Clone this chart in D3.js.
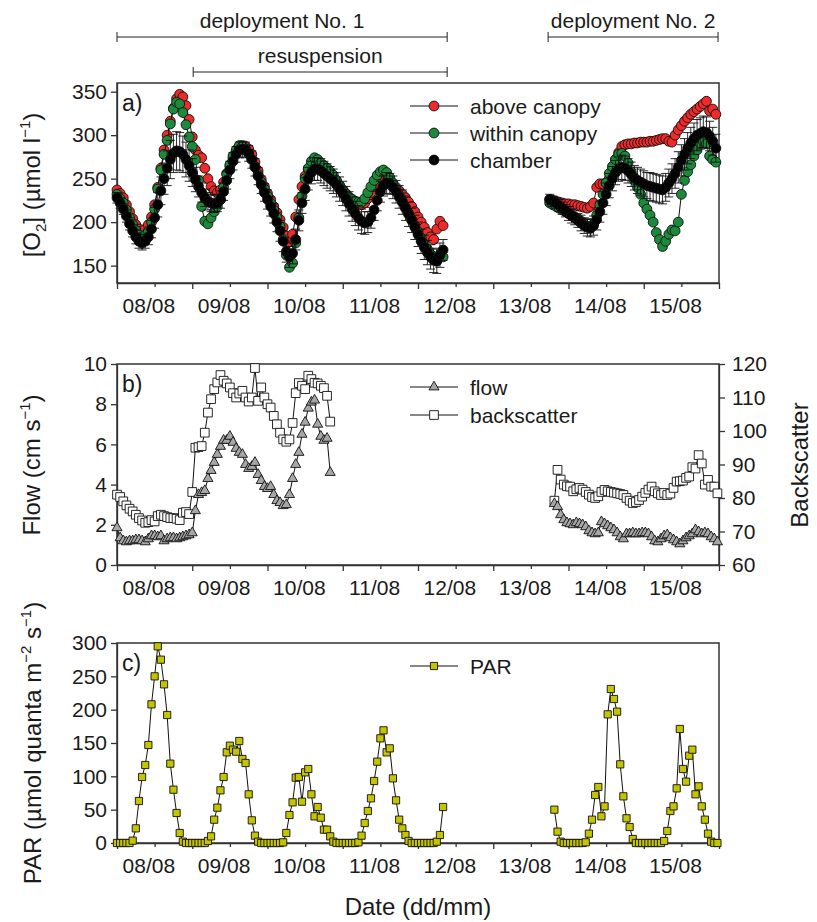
<!DOCTYPE html>
<meta charset="utf-8">
<style>
  body { margin: 0; background: #fff; }
  svg text { font-family: "Liberation Sans", Arial, sans-serif; fill: #1a1a1a; }
  .axis path, .axis line { stroke: #333; stroke-width: 1.3; }
  .axis text { font-size: 21px; }
  .frame { fill: none; stroke: #333; stroke-width: 1.5; }
  .conn { fill: none; stroke: #111; stroke-width: 1; }
  .err line { stroke: #111; stroke-width: 0.9; }
</style>
<body>
<svg width="817" height="922"></svg>
<script src="https://cdn.jsdelivr.net/npm/d3@7"></script>
<script>

// ---- data (time in hours after 08/08 00:00, one value per hour) ----
var dayLabels = ["08/08", "09/08", "10/08", "11/08", "12/08", "13/08", "14/08", "15/08"];

// O2, deployment 1 starts at hour 0, deployment 2 at hour 138
var o2Start1 = 0, o2Start2 = 138;
var aboveCanopy1 = [237,233,228,220,212,204,197,192,190,192,197,206,220,240,262,283,300,316,331,342,347,344,334,318,298,283,277,274,262,250,241,236,234,237,246,256,264,273,280,285,288,287,284,278,269,259,249,241,233,226,218,211,203,194,184,177,186,206,226,241,253,261,266,266,264,262,260,257,254,251,247,242,237,233,229,226,223,221,220,222,227,234,241,247,251,253,252,248,244,240,236,232,228,223,218,212,206,200,194,188,183,180,192,201,196];
var withinCanopy1 = [232,227,222,214,205,197,190,185,183,185,190,200,215,238,260,278,294,313,330,338,336,326,312,298,287,272,248,218,201,198,205,212,218,226,240,255,266,276,283,288,287,284,279,272,264,255,246,238,230,222,214,205,195,180,162,148,153,176,205,230,250,262,270,274,272,268,265,262,258,254,248,242,237,232,228,226,224,223,223,227,234,241,248,254,258,260,257,251,245,238,231,224,217,210,203,196,189,182,175,169,163,158,156,163,160];
var chamber1 = [228,222,215,207,198,190,183,178,176,178,183,192,205,220,236,250,262,272,279,282,281,278,272,265,257,249,241,234,228,224,222,221,222,226,235,248,260,270,278,283,284,283,279,272,263,253,243,234,226,218,210,200,190,178,166,160,164,180,202,222,238,250,257,261,261,259,256,253,250,247,243,238,233,227,221,215,210,205,201,199,200,205,214,225,235,242,245,244,240,235,229,223,216,209,202,194,186,178,171,165,160,156,155,162,168];
var chamberErr1 = [6,6,6,7,7,7,8,8,8,8,9,10,12,14,16,18,20,22,22,22,22,21,20,18,16,14,12,11,10,10,10,10,10,10,10,10,10,10,9,9,9,9,9,10,10,10,10,10,11,11,11,11,12,12,12,12,12,12,12,12,13,13,13,13,13,14,14,14,14,14,14,14,14,14,14,14,14,14,14,13,12,12,12,12,12,12,12,12,13,13,13,14,14,14,14,14,14,14,14,14,14,14,14,14,12];

var aboveCanopy2 = [226,225,224,223,222,221,221,220,220,219,218,217,216,218,222,240,244,244,245,250,260,272,280,287,289,290,290,291,291,292,292,292,293,293,294,295,296,296,293,292,300,306,311,316,320,324,327,330,333,336,339,328,330,324];
var withinCanopy2 = [222,220,218,216,214,212,210,208,206,204,201,198,195,193,198,208,220,232,245,256,264,272,278,279,276,268,258,248,240,232,222,215,208,200,188,180,172,178,186,191,190,200,232,248,258,266,276,283,291,293,290,276,272,269];
var chamber2 = [226,224,222,219,216,213,210,207,205,202,199,196,194,193,196,203,212,222,232,242,250,257,261,263,262,259,255,251,248,246,244,242,241,240,239,238,237,240,245,250,256,263,271,278,285,291,296,300,302,304,303,299,293,285];
var chamberErr2 = [6,6,6,7,7,7,8,8,8,8,9,9,10,10,11,12,12,13,13,14,14,14,14,14,14,14,14,14,15,15,15,15,16,16,16,16,16,16,16,17,17,18,18,18,18,18,18,18,18,18,18,17,16,16];

// flow (cm/s) and backscatter, deployment 1 from hour 0, deployment 2 from hour 139.5
var flowStart1 = 0, flowStart2 = 139.5;
var flow1 = [1.85,1.35,1.2,1.15,1.2,1.2,1.25,1.25,1.2,1.15,1.3,1.45,1.45,1.4,1.45,1.2,1.3,1.35,1.35,1.3,1.35,1.4,1.45,1.5,1.6,2.7,3.5,3.6,3.7,4.3,4.7,5.1,5.5,5.9,6.2,6.2,6.4,6.1,5.8,5.6,5.5,5.0,4.8,4.9,5.1,4.5,4.2,3.9,3.8,3.9,3.5,3.2,3.1,2.95,3.0,3.5,4.3,5.0,5.6,6.5,7.1,7.8,8.1,8.2,7.0,6.4,6.2,6.3,4.6];
var backscatter1 = [81,80.3,79,77.8,76.8,76,75,74,73.3,72.6,72.8,73.4,73,74.6,75,74.6,74.3,74,74,73.8,73.4,75.6,75.8,75.2,81.8,95,95.2,95.5,99.5,105.5,109.5,112.5,114.5,116.7,115,114.2,113,111.3,110,111.2,112,110,108.8,110,118.8,109,113,110,108,107,104.5,102,99.5,97.5,96.8,97.5,102.4,111.3,114.3,113.5,112.5,116.5,115.5,114.4,114.2,113.5,112.8,110.5,102.8];
var flow2 = [3.05,2.9,2.5,2.25,2.1,2.05,2.0,2.1,2.05,2.0,1.9,1.7,1.6,1.55,1.6,2.15,2.05,1.95,1.85,1.75,1.6,1.4,1.3,1.55,1.55,1.6,1.55,1.55,1.6,1.6,1.55,1.4,1.2,1.15,1.3,1.45,1.5,1.35,1.25,1.15,1.05,1.2,1.35,1.45,1.55,1.75,1.65,1.55,1.6,1.55,1.4,1.3,1.15];
var backscatter2 = [79.2,88.4,85.5,84,83.5,83.4,82,82.6,83,82.5,81.8,81,80.3,80,80.5,81.8,82.4,82,81.8,81.6,81.4,81.2,80.9,80,79.2,78.5,78.8,79.4,80.4,81.5,82.5,83.4,82,81.4,80.9,81.5,80.9,81.3,83,84.9,85,85.2,86,86.4,89.2,88.8,92.8,90.3,84,85.4,83.4,83.4,81.4];

// PAR, deployment 1 from hour 0, deployment 2 from hour 139.5
var parStart1 = 0, parStart2 = 139.5;
var par1 = [0,0,0,0,0,3.5,22,63,99,117,147,208,250,295,275,238,192,119,80,45,15,2,0,0,0,0,0,0,0,3,10,35,53,79,99,136,146,140,137,153,126,120,73,34,11,2,0,0,0,0,0,0,0,1,15,42,61,98,99,62,106,111,73,40,54,38,20,20,10,2,0,0,0,0,0,0,0,1,11,30,48,67,93,122,157,169,136,142,97,64,35,22,12,3,0,0,0,0,0,0,0,0,2,12,54];
var par2 = [50,17,2,0,0,0,0,0,0,0,1,14,35,72,84,40,55,193,231,216,197,118,70,37,24,6,0,0,0,0,0,0,0,0,0,3,18,48,55,82,171,111,92,131,140,73,85,55,35,14,2,0,0];

// ---- layout ----
var svg = d3.select("svg");
var x = d3.scaleLinear().domain([0, 192]).range([117, 719]);
var yO2 = d3.scaleLinear().domain([130, 360]).range([283, 83]);
var yFlow = d3.scaleLinear().domain([0, 10]).range([565, 364]);
var yBs = d3.scaleLinear().domain([60, 120]).range([565, 364]);
var yPar = d3.scaleLinear().domain([0, 300]).range([843, 643]);

function pts(start, vals) {
  return vals.map(function(v, i) { return { t: start + i, v: v }; });
}

function xAxes(yBottom) {
  var major = d3.range(0, 193, 24), minor = d3.range(12, 192, 24);
  svg.append("g").attr("class", "axis").attr("transform", "translate(0," + yBottom + ")")
    .call(d3.axisBottom(x).tickValues(major).tickSize(6).tickSizeOuter(0).tickFormat(""));
  svg.append("g").attr("class", "axis").attr("transform", "translate(0," + yBottom + ")")
    .call(d3.axisBottom(x).tickValues(minor).tickSize(4).tickSizeOuter(0).tickFormat(""))
    .select(".domain").remove();
  var lab = svg.append("g").attr("class", "axis").attr("transform", "translate(0," + yBottom + ")")
    .call(d3.axisBottom(x).tickValues(dayLabels.map(function(d, i) { return i * 24 + 10; }))
      .tickSize(0).tickPadding(15).tickFormat(function(d, i) { return dayLabels[i]; }));
  lab.select(".domain").remove();
}

function frame(yTop, yBottom) {
  svg.append("rect").attr("class", "frame")
    .attr("x", 117).attr("y", yTop).attr("width", 602).attr("height", yBottom - yTop);
}

function series(g, data, y, opt) {
  g.append("path").datum(data).attr("class", "conn")
    .attr("d", d3.line().x(function(d) { return x(d.t); }).y(function(d) { return y(d.v); }));
  if (opt.err) {
    var eg = g.append("g").attr("class", "err");
    data.forEach(function(d, i) {
      var e = opt.err[i], cx = x(d.t);
      eg.append("line").attr("x1", cx).attr("x2", cx).attr("y1", y(d.v - e)).attr("y2", y(d.v + e));
      eg.append("line").attr("x1", cx - 4.5).attr("x2", cx + 4.5).attr("y1", y(d.v - e)).attr("y2", y(d.v - e));
      eg.append("line").attr("x1", cx - 4.5).attr("x2", cx + 4.5).attr("y1", y(d.v + e)).attr("y2", y(d.v + e));
    });
  }
  g.selectAll(null).data(data).enter().append("path")
    .attr("transform", function(d) { return "translate(" + x(d.t) + "," + y(d.v) + ")"; })
    .attr("d", d3.symbol().type(opt.symbol).size(opt.size))
    .attr("fill", opt.fill).attr("stroke", "#111").attr("stroke-width", 0.9);
}

function legendRow(yy, opt, label) {
  svg.append("line").attr("x1", 410).attr("x2", 458).attr("y1", yy).attr("y2", yy)
    .attr("stroke", "#111").attr("stroke-width", 1);
  svg.append("path").attr("transform", "translate(434," + yy + ")")
    .attr("d", d3.symbol().type(opt.symbol).size(opt.size))
    .attr("fill", opt.fill).attr("stroke", "#111").attr("stroke-width", 0.9);
  svg.append("text").attr("x", 470).attr("y", yy + 7.5).attr("font-size", 21).text(label);
}

var red = { symbol: d3.symbolCircle, size: 76, fill: "#ee2a2a" };
var green = { symbol: d3.symbolCircle, size: 76, fill: "#1b8a3a" };
var black = { symbol: d3.symbolCircle, size: 76, fill: "#000" };
var tri = { symbol: d3.symbolTriangle, size: 44, fill: "#a6a6a6" };
var sqr = { symbol: d3.symbolSquare, size: 76, fill: "#fff" };
var parSq = { symbol: d3.symbolSquare, size: 52, fill: "#c4c400" };

// ---- top annotations ----
function bracket(t0, t1, yy, label, anchor) {
  svg.append("line").attr("x1", x(t0)).attr("x2", x(t1)).attr("y1", yy).attr("y2", yy).attr("stroke", "#222");
  [t0, t1].forEach(function(t) {
    svg.append("line").attr("x1", x(t)).attr("x2", x(t)).attr("y1", yy - 5).attr("y2", yy + 5).attr("stroke", "#222");
  });
  svg.append("text").attr("x", (x(t0) + x(t1)) / 2).attr("y", yy - 9)
    .attr("text-anchor", "middle").attr("font-size", 21).text(label);
}
bracket(0, 105.3, 37, "deployment No. 1");
bracket(24.3, 105.3, 72, "resuspension");
bracket(137.5, 191.7, 37, "deployment No. 2");

// ---- panel a ----
frame(83, 283);
svg.append("g").attr("class", "axis").attr("transform", "translate(117,0)")
  .call(d3.axisLeft(yO2).tickValues([150, 200, 250, 300, 350]).tickSize(6).tickSizeOuter(0).tickPadding(4));
xAxes(283);
var ga = svg.append("g");
series(ga, pts(o2Start1, aboveCanopy1), yO2, red);
series(ga, pts(o2Start2, aboveCanopy2), yO2, red);
series(ga, pts(o2Start1, withinCanopy1), yO2, green);
series(ga, pts(o2Start2, withinCanopy2), yO2, green);
series(ga, pts(o2Start1, chamber1), yO2, Object.assign({ err: chamberErr1 }, black));
series(ga, pts(o2Start2, chamber2), yO2, Object.assign({ err: chamberErr2 }, black));
legendRow(106, red, "above canopy");
legendRow(133, green, "within canopy");
legendRow(160, black, "chamber");
svg.append("text").attr("x", 122).attr("y", 111).attr("font-size", 23).text("a)");
var t1 = svg.append("text").attr("transform", "translate(40,185) rotate(-90)")
  .attr("text-anchor", "middle").attr("font-size", 24);
t1.append("tspan").text("[O");
t1.append("tspan").attr("font-size", 15).attr("dy", 6).text("2");
t1.append("tspan").attr("dy", -6).text("] (\u00b5mol l");
t1.append("tspan").attr("font-size", 15).attr("dy", -10).text("\u22121");
t1.append("tspan").attr("dy", 10).text(")");

// ---- panel b ----
frame(364, 565);
svg.append("g").attr("class", "axis").attr("transform", "translate(117,0)")
  .call(d3.axisLeft(yFlow).tickValues([0, 2, 4, 6, 8, 10]).tickSize(6).tickSizeOuter(0).tickPadding(4));
svg.append("g").attr("class", "axis").attr("transform", "translate(719,0)")
  .call(d3.axisRight(yBs).tickValues([60, 70, 80, 90, 100, 110, 120]).tickSize(6).tickSizeOuter(0).tickPadding(7));
xAxes(565);
var gb = svg.append("g");
series(gb, pts(flowStart1, backscatter1), yBs, sqr);
series(gb, pts(flowStart2, backscatter2), yBs, sqr);
series(gb, pts(flowStart1, flow1), yFlow, tri);
series(gb, pts(flowStart2, flow2), yFlow, tri);
legendRow(387, tri, "flow");
legendRow(415, sqr, "backscatter");
svg.append("text").attr("x", 122).attr("y", 392).attr("font-size", 23).text("b)");
var t2 = svg.append("text").attr("transform", "translate(40,465) rotate(-90)")
  .attr("text-anchor", "middle").attr("font-size", 24);
t2.append("tspan").text("Flow (cm s");
t2.append("tspan").attr("font-size", 15).attr("dy", -10).text("\u22121");
t2.append("tspan").attr("dy", 10).text(")");
svg.append("text").attr("transform", "translate(808,465) rotate(-90)")
  .attr("text-anchor", "middle").attr("font-size", 24).text("Backscatter");

// ---- panel c ----
frame(643, 843);
svg.append("g").attr("class", "axis").attr("transform", "translate(117,0)")
  .call(d3.axisLeft(yPar).tickValues([0, 50, 100, 150, 200, 250, 300]).tickSize(6).tickSizeOuter(0).tickPadding(4));
xAxes(843);
var gc = svg.append("g");
series(gc, pts(parStart1, par1), yPar, parSq);
series(gc, pts(parStart2, par2), yPar, parSq);
legendRow(666, parSq, "PAR");
svg.append("text").attr("x", 122).attr("y", 671).attr("font-size", 23).text("c)");
var t3 = svg.append("text").attr("transform", "translate(41,743) rotate(-90)")
  .attr("text-anchor", "middle").attr("font-size", 24);
t3.append("tspan").text("PAR (\u00b5mol quanta m");
t3.append("tspan").attr("font-size", 15).attr("dy", -10).text("\u22122");
t3.append("tspan").attr("dy", 10).text(" s");
t3.append("tspan").attr("font-size", 15).attr("dy", -10).text("\u22121");
t3.append("tspan").attr("dy", 10).text(")");
svg.append("text").attr("x", 418).attr("y", 915).attr("text-anchor", "middle")
  .attr("font-size", 24).text("Date (dd/mm)");

</script>
</body>
